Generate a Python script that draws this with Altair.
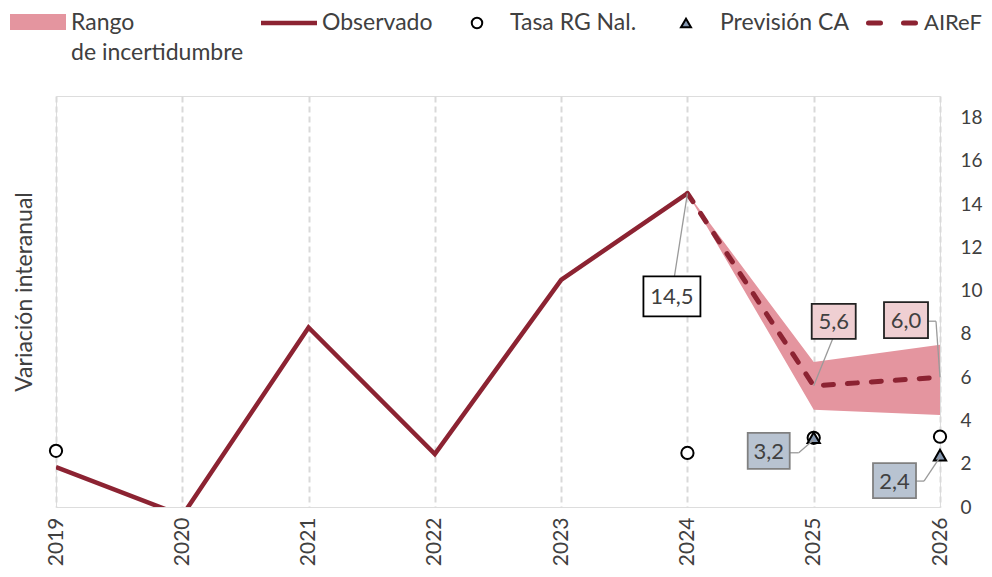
import altair as alt
import pandas as pd

# ---- data ----
obs_years = [2019, 2020, 2021, 2022, 2023, 2024]
obs_vals = [1.85, -0.4, 8.3, 2.45, 10.5, 14.5]

fc_years = [2024, 2025, 2026]
airef_vals = [14.5, 5.6, 6.0]
band_low = [14.5, 4.5, 4.25]
band_high = [14.5, 6.7, 7.5]

tasa_years = [2019, 2024, 2025, 2026]
tasa_vals = [2.6, 2.5, 3.2, 3.25]

ca_years = [2025, 2026]
ca_vals = [3.2, 2.4]

ann_text = ["14,5", "5,6", "6,0", "3,2", "2,4"]
ann_years = [2024, 2025, 2026, 2025, 2026]
ann_vals = [14.5, 5.6, 6.0, 3.2, 2.4]

axis_years = [2019, 2020, 2021, 2022, 2023, 2024, 2025, 2026]
y_ticks = [0, 2, 4, 6, 8, 10, 12, 14, 16, 18]

# ---- styles ----
RED = "#8c2332"
BAND = "#e4959f"
TRI = "#8497b0"
TXT = "#404040"
FONT = "Lato"

obs_df = pd.DataFrame({"year": obs_years, "val": obs_vals})
fc_df = pd.DataFrame({"year": fc_years, "val": airef_vals, "lo": band_low, "hi": band_high})
tasa_df = pd.DataFrame({"year": tasa_years, "val": tasa_vals})
ca_df = pd.DataFrame({"year": ca_years, "val": ca_vals})
ann_df = pd.DataFrame({"year": ann_years, "val": ann_vals, "text": ann_text})

xscale = alt.Scale(domain=[2019, 2026], nice=False, zero=False)
yscale = alt.Scale(domain=[0, 19], nice=False)

X = alt.X("year:Q", scale=xscale, axis=alt.Axis(
    values=axis_years, format="d", labelAngle=270, labelAlign="right", labelBaseline="middle",
    grid=True, gridDash=[6, 4], gridColor="#d9d9d9", gridWidth=2,
    domain=False, ticks=False, labelFontSize=21, labelPadding=10, labelColor=TXT, title=None))
Y = alt.Y("val:Q", scale=yscale, axis=alt.Axis(
    orient="right", values=y_ticks, grid=False, domain=False, ticks=False,
    labelFontSize=19, labelPadding=20, labelColor=TXT, title=None))

band = alt.Chart(fc_df).mark_area(color=BAND, opacity=1).encode(
    x=alt.X("year:Q", scale=xscale), y=alt.Y("lo:Q", scale=yscale), y2="hi:Q")

base_axes = alt.Chart(obs_df).mark_line(opacity=0).encode(x=X, y=Y)

obs_line = alt.Chart(obs_df).mark_line(color=RED, strokeWidth=4.5, clip=True).encode(
    x=alt.X("year:Q", scale=xscale), y=alt.Y("val:Q", scale=yscale))

airef_line = alt.Chart(fc_df).mark_line(color=RED, strokeWidth=5, strokeDash=[10, 14],
                                        strokeCap="round").encode(
    x=alt.X("year:Q", scale=xscale), y=alt.Y("val:Q", scale=yscale))

circles = alt.Chart(tasa_df).mark_point(shape="circle", size=150, filled=True, fill="white",
                                        stroke="black", strokeWidth=2, opacity=1).encode(
    x=alt.X("year:Q", scale=xscale), y=alt.Y("val:Q", scale=yscale))

tris = alt.Chart(ca_df).mark_point(shape="triangle-up", size=150, filled=True, fill=TRI,
                                   stroke="black", strokeWidth=2, opacity=1).encode(
    x=alt.X("year:Q", scale=xscale), y=alt.Y("val:Q", scale=yscale))

# annotation boxes: (box dx1, dx2, dy1, dy2, fill, stroke, leader segments)
ann_style = [
    (-44, 13, 83, 123, "white", "#000000", [(0, 0, -13, 83)]),
    (-2, 42, -82, -47, "#efcfd2", "#222222", [(0, 0, 19, -47)]),
    (-56, -12, -75, -39, "#efcfd2", "#222222", [(0, 0, -4, -56), (-4, -56, -12, -56)]),
    (-66, -24, -5, 31, "#b8c3d1", "#808080", [(0, 2, -15, 15), (-15, 15, -24, 15)]),
    (-67, -24, 8, 43, "#b8c3d1", "#808080", [(0, 2, -16, 26), (-16, 26, -24, 26)]),
]

ann_layers = []
enc_pt = dict(x=alt.X("year:Q", scale=xscale), x2="year:Q",
              y=alt.Y("val:Q", scale=yscale), y2="val:Q")
for i, (x1, x2, y1, y2, fill, stroke, segs) in enumerate(ann_style):
    d = ann_df.iloc[[i]]
    for (a, b, c, e) in segs:
        ann_layers.append(alt.Chart(d).mark_rule(
            color="#9a9a9a", strokeWidth=1.3, xOffset=a, yOffset=b, x2Offset=c, y2Offset=e
        ).encode(**enc_pt))
    ann_layers.append(alt.Chart(d).mark_rect(
        fill=fill, stroke=stroke, strokeWidth=1.8, xOffset=x1, x2Offset=x2, yOffset=y1, y2Offset=y2
    ).encode(**enc_pt))
    ann_layers.append(alt.Chart(d).mark_text(
        fontSize=22, color=TXT, font=FONT, align="center", baseline="middle",
        dx=(x1 + x2) / 2, dy=(y1 + y2) / 2 + 1
    ).encode(x=alt.X("year:Q", scale=xscale), y=alt.Y("val:Q", scale=yscale), text="text:N"))

# ---- legend (drawn above the plot) ----
one = pd.DataFrame({"a": [0]})
LY = -73
leg = [
    alt.Chart(one).mark_rect(fill=BAND).encode(
        x=alt.value(-46), x2=alt.value(10), y=alt.value(-82), y2=alt.value(-66)),
    alt.Chart(one).mark_rule(color=RED, strokeWidth=4.5).encode(
        x=alt.value(205), x2=alt.value(261), y=alt.value(LY)),
    alt.Chart(one).mark_point(shape="circle", size=110, filled=True, fill="white",
                              stroke="black", strokeWidth=2, opacity=1).encode(
        x=alt.value(421), y=alt.value(LY)),
    alt.Chart(one).mark_point(shape="triangle-up", size=100, filled=True, fill=TRI,
                              stroke="black", strokeWidth=2, opacity=1).encode(
        x=alt.value(630), y=alt.value(LY)),
    alt.Chart(one).mark_rule(color=RED, strokeWidth=5, strokeDash=[12, 23],
                             strokeCap="round").encode(
        x=alt.value(812.5), x2=alt.value(860), y=alt.value(LY)),
]
for txt, xx, yy, fs in [("Rango", 15, -73, 23), ("de incertidumbre", 15, -43, 23),
                        ("Observado", 266, -73, 23), ("Tasa RG Nal.", 454, -73, 23),
                        ("Previsión CA", 664, -73, 23), ("AIReF", 868, -73, 22)]:
    leg.append(alt.Chart(one).mark_text(
        text=txt, fontSize=fs, color=TXT, font=FONT, align="left", baseline="middle"
    ).encode(x=alt.value(xx), y=alt.value(yy)))

ytitle = alt.Chart(one).mark_text(
    text="Variación interanual", fontSize=23, color=TXT, font=FONT, angle=270,
    align="center", baseline="middle").encode(x=alt.value(-31), y=alt.value(196))

chart = alt.layer(
    band, base_axes, obs_line, airef_line, circles, tris, *ann_layers, *leg, ytitle
).properties(
    width=884, height=411,
    autosize=alt.AutoSizeParams(type="none"),
    padding={"left": 48, "top": 88, "right": 44, "bottom": 62},
).configure_view(
    stroke="#a6a6a6", strokeWidth=1.5
).configure(font=FONT)

chart.save("out.html", embed_options={"renderer": "svg", "actions": False})
